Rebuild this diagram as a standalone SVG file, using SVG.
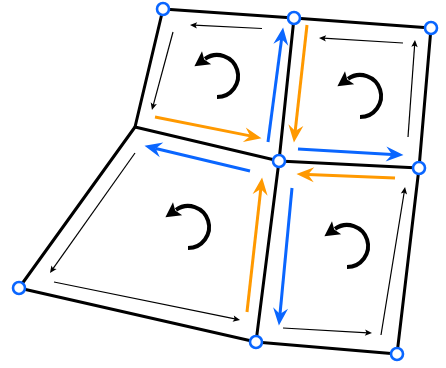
<svg xmlns="http://www.w3.org/2000/svg" xmlns:xlink="http://www.w3.org/1999/xlink" width="446" height="368" viewBox="0 0 446 368">
<style>
.edge{stroke:#000;stroke-width:3;fill:none;stroke-linecap:round}
.blue{stroke:#0a66ff;stroke-width:3;fill:none}
.orange{stroke:#ff9900;stroke-width:3;fill:none}
.thin{stroke:#000;stroke-width:1.2;fill:none}
.vtx{fill:#fff;stroke:#0a66ff;stroke-width:2.6}
.rot{stroke:#000;stroke-width:4;fill:none}
</style>
<defs>
<marker id="hb" markerUnits="userSpaceOnUse" viewBox="-8 -9 22 18" markerWidth="22" markerHeight="18" refX="0" refY="0" orient="auto" overflow="visible">
<path d="M-6,-7.5 L11.5,0 L-6,7.5 L0,0 z" fill="#0a66ff"/>
</marker>
<marker id="ho" markerUnits="userSpaceOnUse" viewBox="-8 -9 22 18" markerWidth="22" markerHeight="18" refX="0" refY="0" orient="auto" overflow="visible">
<path d="M-6,-7.5 L11.5,0 L-6,7.5 L0,0 z" fill="#ff9900"/>
</marker>
<marker id="hk" markerUnits="userSpaceOnUse" viewBox="-5 -4 10 8" markerWidth="10" markerHeight="8" refX="0" refY="0" orient="auto" overflow="visible">
<path d="M-3,-3.2 L4,0 L-3,3.2 L-1.5,0 z" fill="#000"/>
</marker>
<g id="rotsym">
<path class="rot" d="M0,21 A21,21 0 1 0 -12,-17.2"/>
<path d="M-5.8,-11.75 L-22.6,-9.7 L-15,-24.85 L-12.8,-16.6 z" fill="#000"/>
</g>
</defs>
<g id="edges">
<path class="edge" d="M163,9 L294,18 L431,28"/>
<path class="edge" d="M135,127 L279,161 L419,168"/>
<path class="edge" d="M19,288 L256,342 L397,354"/>
<path class="edge" d="M163,9 L135,127 L19,288"/>
<path class="edge" d="M294,18 L279,161 L256,342"/>
<path class="edge" d="M431,28 L419,168 L397,354"/>
</g>
<g id="rotations">
<use xlink:href="#rotsym" transform="translate(217,76)"/>
<use xlink:href="#rotsym" transform="translate(360,96)"/>
<use xlink:href="#rotsym" transform="translate(188,227)"/>
<use xlink:href="#rotsym" transform="translate(347,246)"/>
</g>
<g id="connectors">
<line class="orange" x1="155" y1="117" x2="250.2" y2="135.9" marker-end="url(#ho)"/>
<line class="blue" x1="268" y1="142" x2="281.6" y2="38.9" marker-end="url(#hb)"/>
<line class="blue" x1="250" y1="171" x2="155.7" y2="148.5" marker-end="url(#hb)"/>
<line class="orange" x1="307" y1="25" x2="295.2" y2="131.1" marker-end="url(#ho)"/>
<line class="blue" x1="298" y1="149" x2="392" y2="154.4" marker-end="url(#hb)"/>
<line class="orange" x1="395" y1="178" x2="308" y2="174.5" marker-end="url(#ho)"/>
<line class="orange" x1="247" y1="312" x2="260.8" y2="188.9" marker-end="url(#ho)"/>
<line class="blue" x1="292" y1="188" x2="280" y2="314" marker-end="url(#hb)"/>
<line class="thin" x1="262" y1="28.5" x2="194" y2="25.2" marker-end="url(#hk)"/>
<line class="thin" x1="173" y1="32" x2="153" y2="106.1" marker-end="url(#hk)"/>
<line class="thin" x1="403" y1="43" x2="323" y2="38.2" marker-end="url(#hk)"/>
<line class="thin" x1="408" y1="137" x2="414.7" y2="44" marker-end="url(#hk)"/>
<line class="thin" x1="135" y1="153" x2="52.3" y2="269.7" marker-end="url(#hk)"/>
<line class="thin" x1="54" y1="282" x2="236.1" y2="319.2" marker-end="url(#hk)"/>
<line class="thin" x1="283" y1="328" x2="368" y2="332.8" marker-end="url(#hk)"/>
<line class="thin" x1="381" y1="335" x2="404.4" y2="191" marker-end="url(#hk)"/>
</g>
<g id="vA"><circle class="vtx" cx="163" cy="9" r="6"/></g>
<g id="vB"><circle class="vtx" cx="294" cy="18" r="6"/></g>
<g id="vC"><circle class="vtx" cx="431" cy="28" r="6"/></g>
<g id="vE"><circle class="vtx" cx="279" cy="161" r="6"/></g>
<g id="vF"><circle class="vtx" cx="419" cy="168" r="6"/></g>
<g id="vG"><circle class="vtx" cx="19" cy="288" r="6"/></g>
<g id="vH"><circle class="vtx" cx="256" cy="342" r="6"/></g>
<g id="vI"><circle class="vtx" cx="397" cy="354" r="6"/></g>
</svg>
